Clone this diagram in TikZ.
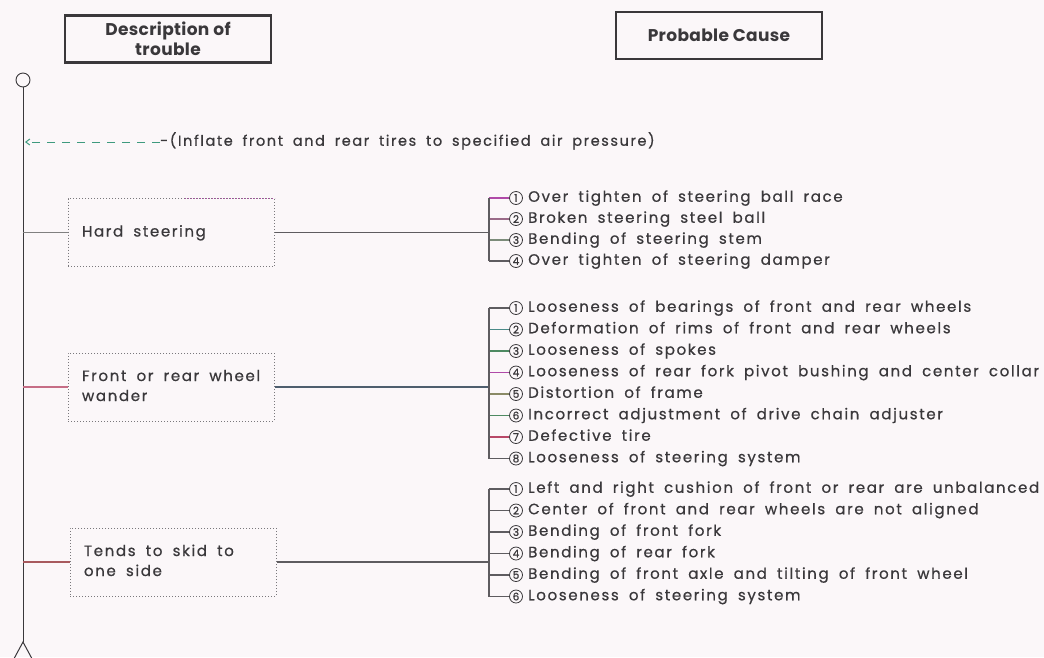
\documentclass[tikz,border=0pt]{standalone}
\usepackage{fontspec}
\setmainfont{Poppins}
\newfontfamily\itemfont{Poppins}[LetterSpace=11, WordSpace=1.8, FakeBold=0.7]
\newfontfamily\headfont{Poppins}[LetterSpace=2]
\newfontfamily\numfont{Poppins}[FakeBold=0.8]
\usetikzlibrary{arrows.meta}
\definecolor{paper}{HTML}{FBF7F9}
\definecolor{ink}{HTML}{3A383B}
\definecolor{lineg}{HTML}{5E5C60}
\definecolor{dotg}{HTML}{7A787C}
\definecolor{mag}{HTML}{B04AA8}
\definecolor{mauve}{HTML}{9A6A88}
\definecolor{sage}{HTML}{7C8C7A}
\definecolor{teal2}{HTML}{4A8A88}
\definecolor{grn}{HTML}{4E8A62}
\definecolor{olive2}{HTML}{8A8A66}
\definecolor{rose}{HTML}{B84868}
\definecolor{brick}{HTML}{A85A5E}
\definecolor{slate}{HTML}{4E5E6E}
\definecolor{dashgreen}{HTML}{3E9A7E}
\tikzset{
  headbox/.style={draw=ink, line width=2.2pt, minimum width=206pt, minimum height=47pt, inner sep=0pt, align=center, text=ink, font=\headfont\bfseries\fontsize{17}{20}\selectfont},
  trouble/.style={draw=dotg, dotted, line width=1pt, minimum height=68pt, minimum width=206pt, inner sep=0pt, text=ink, font=\itemfont\fontsize{15}{20}\selectfont},
  num/.style={circle, draw=ink, line width=0.8pt, minimum size=13pt, inner sep=0pt, text=ink, font=\numfont\fontsize{10.5}{11}\selectfont},
  cause/.style={anchor=west, inner sep=0pt, text height=10.5pt, text depth=3pt, text=ink, font=\itemfont\fontsize{15}{17}\selectfont},
  link/.style={line width=1.1pt, draw=lineg},
  spine/.style={line width=1pt, draw=ink},
}
\newcommand{\boxtext}[1]{\makebox[178pt][l]{\begin{tabular}{@{}l@{}}#1\end{tabular}}}
\begin{document}
\begin{tikzpicture}[x=1pt,y=-1pt]
\fill[paper] (0,0) rectangle (1044,657);
\useasboundingbox (0,0) rectangle (1044,657);

% headers
\node[headbox] (desc) at (168,39) {Description of\\trouble};
\node[headbox] (prob) at (719,35.5) {Probable Cause};

% spine
\node[circle, draw=ink, line width=0.9pt, minimum size=14pt, inner sep=0pt] (top) at (23,80) {};
\coordinate (bot) at (23,642);
\draw[spine] (top.south) -- (bot);
\draw[spine] ([shift={(-14,26)}]bot) -- (bot) -- ([shift={(14,26)}]bot);

% inflate note
\node[cause, font=\itemfont\fontsize{14.5}{16}\selectfont] (inflate) at (160,142) {-(Inflate front and rear tires to specified air pressure)};
\coordinate (tip) at (25,142);
\draw[dashgreen, line width=1pt, dash pattern=on 8pt off 7pt, -{Straight Barb[length=4pt,width=6pt]}] (inflate.west) -- (tip);

% trouble boxes
\node[trouble] (hard) at (171,232.5) {\boxtext{Hard steering}};
\draw[mag, dotted, line width=1pt] ([xshift=-90pt]hard.north east) -- (hard.north east);
\node[trouble] (wander) at (171,387) {\boxtext{Front or rear wheel\\wander}};
\node[trouble] (skid) at (173,562) {\boxtext{Tends to skid to\\one side}};

\draw[link, draw=gray] (hard.west -| top) -- (hard.west);
\draw[link, draw=rose!80] (wander.west -| top) -- (wander.west);
\draw[link, draw=brick] (skid.west -| top) -- (skid.west);

% hard steering causes
\coordinate (hbr) at (489,232.5);
\draw[link] (hard.east) -- (hbr);
\foreach \i/\col/\txt [evaluate=\i as \yy using {198+21*(\i-1)}] in {
  1/mag/{Over tighten of steering ball race},
  2/mauve/{Broken steering steel ball},
  3/sage/{Bending of steering stem},
  4/lineg/{Over tighten of steering damper}} {
  \node[num] (h\i) at (516,\yy) {\i};
  \node[cause] (ht\i) at (528,\yy) {\txt};
  \draw[link, draw=\col] (h\i -| hbr) -- (h\i.west);
}
\draw[link] (h1 -| hbr) -- (h4 -| hbr);

% wander causes
\coordinate (wbr) at (489,387);
\draw[link, draw=slate] (wander.east) -- (wbr);
\foreach \i/\col/\txt [evaluate=\i as \yy using {308+21.5*(\i-1)}] in {
  1/lineg/{Looseness of bearings of front and rear wheels},
  2/teal2/{Deformation of rims of front and rear wheels},
  3/grn/{Looseness of spokes},
  4/mag/{Looseness of rear fork pivot bushing and center collar},
  5/olive2/{Distortion of frame},
  6/grn/{Incorrect adjustment of drive chain adjuster},
  7/rose/{Defective tire},
  8/lineg/{Looseness of steering system}} {
  \node[num] (w\i) at (516,\yy) {\i};
  \node[cause] (wt\i) at (528,\yy) {\txt};
  \draw[link, draw=\col] (w\i -| wbr) -- (w\i.west);
}
\draw[link] (w1 -| wbr) -- (w8 -| wbr);

% skid causes
\coordinate (sbr) at (489,562);
\draw[link] (skid.east) -- (sbr);
\foreach \i/\txt [evaluate=\i as \yy using {489+21.5*(\i-1)}] in {
  1/{Left and right cushion of front or rear are unbalanced},
  2/{Center of front and rear wheels are not aligned},
  3/{Bending of front fork},
  4/{Bending of rear fork},
  5/{Bending of front axle and tilting of front wheel},
  6/{Looseness of steering system}} {
  \node[num] (s\i) at (516,\yy) {\i};
  \node[cause] (st\i) at (528,\yy) {\txt};
  \draw[link] (s\i -| sbr) -- (s\i.west);
}
\draw[link] (s1 -| sbr) -- (s6 -| sbr);
\end{tikzpicture}
\end{document}
